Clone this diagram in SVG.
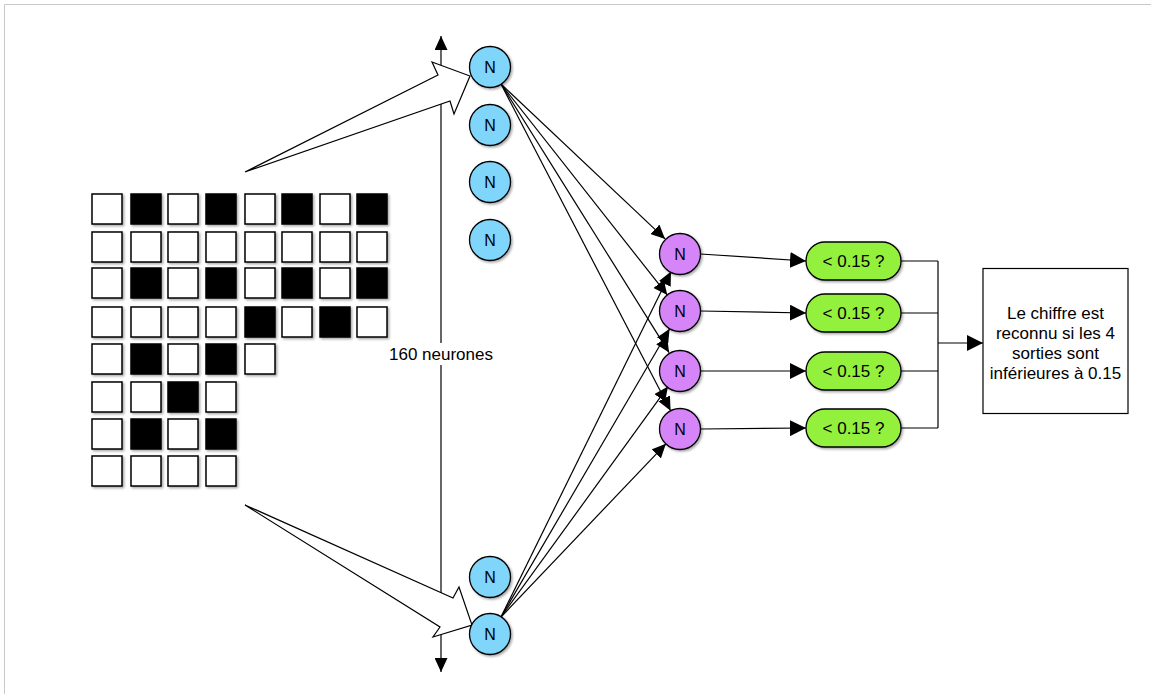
<svg xmlns="http://www.w3.org/2000/svg" width="1151" height="694" viewBox="0 0 1151 694">
  <style>
    .txt { font-family: "Liberation Sans", Arial, sans-serif; font-size: 17px; fill: #000; text-anchor: middle; }
    .lbl { font-family: "Liberation Sans", Arial, sans-serif; font-size: 16px; fill: #000; text-anchor: middle; }
    .cell { stroke: #000; stroke-width: 1.5; filter: url(#shadow); }
    .w { fill: #fff; }
    .b { fill: #000; }
    .inN { fill: #80D5FA; stroke: #000; stroke-width: 1.3; filter: url(#shadow); }
    .outN { fill: #D685F8; stroke: #000; stroke-width: 1.3; filter: url(#shadow); }
    .test { fill: #93F03C; stroke: #000; stroke-width: 1.3; filter: url(#shadow); }
    .edge { fill: none; stroke: #000; stroke-width: 1.2; }
    .fat { fill: #fff; stroke: #000; stroke-width: 1.2; stroke-linejoin: miter; }
  </style>
  <defs>
    <filter id="shadow" x="-30%" y="-30%" width="160%" height="160%">
      <feDropShadow dx="1.5" dy="1.5" stdDeviation="1.3" flood-color="#000" flood-opacity="0.35"/>
    </filter>
    <marker id="head" viewBox="0 0 16 16" refX="16" refY="8" markerWidth="16" markerHeight="16" markerUnits="userSpaceOnUse" orient="auto-start-reverse">
      <path d="M0,0 L16,8 L0,16 Z" fill="#000"/>
    </marker>
    <marker id="head2" viewBox="0 0 14 13" refX="14" refY="6.5" markerWidth="14" markerHeight="13" markerUnits="userSpaceOnUse" orient="auto-start-reverse">
      <path d="M0,0 L14,6.5 L0,13 Z" fill="#000"/>
    </marker>
  </defs>

  <rect width="1151" height="694" fill="#fff"/>
  <!-- page frame -->
  <path d="M4.5,694 V4.5 H1151" fill="none" stroke="#c8c8c8" stroke-width="1"/>

  <!-- input pixel grid -->
  <g id="grid">
    <!-- row 1 -->
    <rect class="cell w" x="92" y="194" width="30" height="30"/>
    <rect class="cell b" x="131" y="194" width="30" height="30"/>
    <rect class="cell w" x="168" y="194" width="30" height="30"/>
    <rect class="cell b" x="206" y="194" width="30" height="30"/>
    <rect class="cell w" x="245" y="194" width="30" height="30"/>
    <rect class="cell b" x="282" y="194" width="30" height="30"/>
    <rect class="cell w" x="320" y="194" width="30" height="30"/>
    <rect class="cell b" x="357" y="194" width="30" height="30"/>
    <!-- row 2 -->
    <rect class="cell w" x="92" y="232" width="30" height="30"/>
    <rect class="cell w" x="131" y="232" width="30" height="30"/>
    <rect class="cell w" x="168" y="232" width="30" height="30"/>
    <rect class="cell w" x="206" y="232" width="30" height="30"/>
    <rect class="cell w" x="245" y="232" width="30" height="30"/>
    <rect class="cell w" x="282" y="232" width="30" height="30"/>
    <rect class="cell w" x="320" y="232" width="30" height="30"/>
    <rect class="cell w" x="357" y="232" width="30" height="30"/>
    <!-- row 3 -->
    <rect class="cell w" x="92" y="268" width="30" height="30"/>
    <rect class="cell b" x="131" y="268" width="30" height="30"/>
    <rect class="cell w" x="168" y="268" width="30" height="30"/>
    <rect class="cell b" x="206" y="268" width="30" height="30"/>
    <rect class="cell w" x="245" y="268" width="30" height="30"/>
    <rect class="cell b" x="282" y="268" width="30" height="30"/>
    <rect class="cell w" x="320" y="268" width="30" height="30"/>
    <rect class="cell b" x="357" y="268" width="30" height="30"/>
    <!-- row 4 -->
    <rect class="cell w" x="92" y="307" width="30" height="30"/>
    <rect class="cell w" x="131" y="307" width="30" height="30"/>
    <rect class="cell w" x="168" y="307" width="30" height="30"/>
    <rect class="cell w" x="206" y="307" width="30" height="30"/>
    <rect class="cell b" x="245" y="307" width="30" height="30"/>
    <rect class="cell w" x="282" y="307" width="30" height="30"/>
    <rect class="cell b" x="320" y="307" width="30" height="30"/>
    <rect class="cell w" x="357" y="307" width="30" height="30"/>
    <!-- row 5 -->
    <rect class="cell w" x="92" y="344" width="30" height="30"/>
    <rect class="cell b" x="131" y="344" width="30" height="30"/>
    <rect class="cell w" x="168" y="344" width="30" height="30"/>
    <rect class="cell b" x="206" y="344" width="30" height="30"/>
    <rect class="cell w" x="245" y="344" width="30" height="30"/>
    <!-- row 6 -->
    <rect class="cell w" x="92" y="382" width="30" height="30"/>
    <rect class="cell w" x="131" y="382" width="30" height="30"/>
    <rect class="cell b" x="168" y="382" width="30" height="30"/>
    <rect class="cell w" x="206" y="382" width="30" height="30"/>
    <!-- row 7 -->
    <rect class="cell w" x="92" y="419" width="30" height="30"/>
    <rect class="cell b" x="131" y="419" width="30" height="30"/>
    <rect class="cell w" x="168" y="419" width="30" height="30"/>
    <rect class="cell b" x="206" y="419" width="30" height="30"/>
    <!-- row 8 -->
    <rect class="cell w" x="92" y="456" width="30" height="30"/>
    <rect class="cell w" x="131" y="456" width="30" height="30"/>
    <rect class="cell w" x="168" y="456" width="30" height="30"/>
    <rect class="cell w" x="206" y="456" width="30" height="30"/>
  </g>

  <!-- connectors -->
  <g id="connectors">
    <!-- layer-size axis -->
    <line class="edge" x1="441" y1="36" x2="441" y2="672" marker-start="url(#head2)" marker-end="url(#head2)"/>
    <rect x="386" y="343" width="110" height="22" fill="#fff"/>
    <text class="txt" x="441" y="360">160 neurones</text>

    <!-- grid to hidden layer -->
    <polygon class="fat" points="245,172 438,75 432,62 470,76 454,114 450,101"/>
    <polygon class="fat" points="245,505 453,598 459,587 472,625 433,637 440,627"/>

    <!-- hidden to output -->
    <line class="edge" x1="501" y1="84" x2="665.1" y2="238.9" marker-end="url(#head2)"/>
    <line class="edge" x1="501" y1="84" x2="667.3" y2="294.9" marker-end="url(#head2)"/>
    <line class="edge" x1="501" y1="84" x2="669.1" y2="352.6" marker-end="url(#head2)"/>
    <line class="edge" x1="501" y1="84" x2="670.6" y2="410.8" marker-end="url(#head2)"/>
    <line class="edge" x1="501" y1="617" x2="671" y2="271.4" marker-end="url(#head2)"/>
    <line class="edge" x1="501" y1="617" x2="669.6" y2="328.7" marker-end="url(#head2)"/>
    <line class="edge" x1="501" y1="617" x2="668" y2="386.6" marker-end="url(#head2)"/>
    <line class="edge" x1="501" y1="617" x2="665.9" y2="443.8" marker-end="url(#head2)"/>

    <!-- output to threshold tests -->
    <line class="edge" x1="700.5" y1="254" x2="806" y2="261" marker-end="url(#head)"/>
    <line class="edge" x1="700.5" y1="311" x2="806" y2="313" marker-end="url(#head)"/>
    <line class="edge" x1="700.5" y1="371" x2="806" y2="371" marker-end="url(#head)"/>
    <line class="edge" x1="700.5" y1="429" x2="806" y2="428" marker-end="url(#head)"/>

    <!-- merge of tests -->
    <path class="edge" d="M901,261 H938 M901,313 H938 M901,371 H938 M901,428 H938 M938,261 V428"/>
    <line class="edge" x1="938" y1="343" x2="983" y2="343" marker-end="url(#head)"/>
  </g>

  <!-- hidden layer neurons -->
  <g id="h1"><circle class="inN" cx="490" cy="67" r="20.5"/><text class="lbl" x="490" y="72.5">N</text></g>
  <g id="h2"><circle class="inN" cx="490" cy="125" r="20.5"/><text class="lbl" x="490" y="130.5">N</text></g>
  <g id="h3"><circle class="inN" cx="490" cy="182" r="20.5"/><text class="lbl" x="490" y="187.5">N</text></g>
  <g id="h4"><circle class="inN" cx="490" cy="240" r="20.5"/><text class="lbl" x="490" y="245.5">N</text></g>
  <g id="h159"><circle class="inN" cx="490" cy="577" r="20.5"/><text class="lbl" x="490" y="582.5">N</text></g>
  <g id="h160"><circle class="inN" cx="490" cy="634" r="20.5"/><text class="lbl" x="490" y="639.5">N</text></g>

  <!-- output neurons -->
  <g id="o1"><circle class="outN" cx="680" cy="254" r="20.5"/><text class="lbl" x="680" y="259.5">N</text></g>
  <g id="o2"><circle class="outN" cx="680" cy="311" r="20.5"/><text class="lbl" x="680" y="316.5">N</text></g>
  <g id="o3"><circle class="outN" cx="680" cy="371" r="20.5"/><text class="lbl" x="680" y="376.5">N</text></g>
  <g id="o4"><circle class="outN" cx="680" cy="429" r="20.5"/><text class="lbl" x="680" y="434.5">N</text></g>

  <!-- threshold tests -->
  <g id="t1"><rect class="test" x="806" y="242" width="95" height="38" rx="19"/><text class="txt" x="853.5" y="267">&lt; 0.15 ?</text></g>
  <g id="t2"><rect class="test" x="806" y="294" width="95" height="38" rx="19"/><text class="txt" x="853.5" y="319">&lt; 0.15 ?</text></g>
  <g id="t3"><rect class="test" x="806" y="352" width="95" height="38" rx="19"/><text class="txt" x="853.5" y="377">&lt; 0.15 ?</text></g>
  <g id="t4"><rect class="test" x="806" y="409" width="95" height="38" rx="19"/><text class="txt" x="853.5" y="434">&lt; 0.15 ?</text></g>

  <!-- decision -->
  <g id="result">
    <rect x="983" y="268.5" width="145" height="145" fill="#fff" stroke="#000" stroke-width="1.2"/>
    <text class="txt" x="1055.5" y="319">Le chiffre est</text>
    <text class="txt" x="1055.5" y="339">reconnu si les 4</text>
    <text class="txt" x="1055.5" y="359">sorties sont</text>
    <text class="txt" x="1055.5" y="379">inférieures à 0.15</text>
  </g>
</svg>
